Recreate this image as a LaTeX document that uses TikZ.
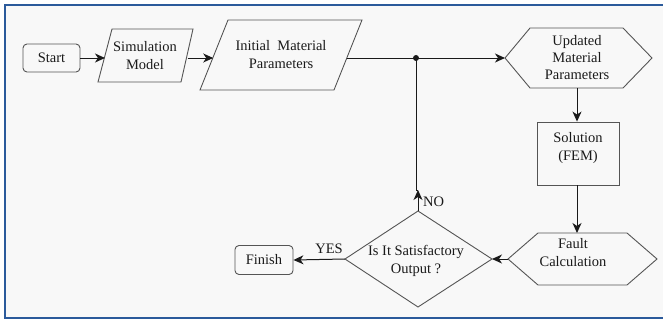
\documentclass[tikz,border=0pt]{standalone}
\usepackage{fontspec}
\setmainfont{Liberation Serif}
\usetikzlibrary{arrows.meta}
\definecolor{frameblue}{HTML}{2B5A9B}
\definecolor{bgfill}{HTML}{F8F8F8}
\definecolor{edgegray}{HTML}{555555}
\definecolor{ink}{HTML}{1A1A1A}
\begin{document}
\begin{tikzpicture}[x=1pt,y=-1pt,
  font=\fontsize{14.5}{18}\selectfont,
  every node/.style={text=ink},
  outline/.style={draw=edgegray, line width=0.9pt},
  termbox/.style={outline, rounded corners=4pt, inner sep=0pt},
  procbox/.style={outline, inner sep=0pt},
  txt/.style={align=center, inner sep=0pt},
  conn/.style={draw=ink, line width=1pt},
  arr/.style={conn, -{Stealth[length=10pt,width=9pt,inset=3pt]}}
]
\useasboundingbox (0,0) rectangle (663,321);
\clip (0,0) rectangle (663,321);
\fill[white] (0,0) rectangle (663,321);
\draw[frameblue, line width=2pt, fill=bgfill] (5,5) rectangle (680,318);

% Start
\node[termbox, minimum width=57pt, minimum height=28pt] (start) at (51.5,58) {Start};

% Simulation Model (parallelogram)
\draw[outline] (112,29) -- (193,29) -- (181,82) -- (98,82) -- cycle;
\node[txt] (sim) at (145,56) {Simulation\\Model};
\coordinate (simL) at (105,58);
\coordinate (simR) at (187.5,58);

% Initial Material Parameters (parallelogram)
\draw[outline] (228,20) -- (362,20) -- (334,90) -- (200,90) -- cycle;
\node[txt] (init) at (281,55) {Initial\ \ Material\\Parameters};
\coordinate (initL) at (213.2,58);
\coordinate (initR) at (346.8,58);

% junction
\coordinate (junc) at (416,58);
\fill[ink] (junc) circle (3pt);

% Updated Material Parameters (hexagon)
\draw[outline] (505,58) -- (530,28) -- (623,28) -- (652,58) -- (623,88) -- (530,88) -- cycle;
\node[txt, font=\fontsize{14.5}{17}\selectfont] (upd) at (577,58) {Updated\\Material\\Parameters};
\coordinate (updL) at (505,58);
\coordinate (updB) at (577,88);

% Solution (FEM)
\node[procbox, minimum width=82pt, minimum height=63pt] (sol) at (578,153.5) {};
\node[txt] (soltxt) at (578,148) {Solution\\(FEM)};

% Fault Calculation (hexagon)
\draw[outline] (508,259) -- (538,233) -- (627,233) -- (657,259) -- (627,285) -- (538,285) -- cycle;
\node[txt] (fault) at (573,253) {Fault\\Calculation};
\coordinate (faultT) at (577,233);
\coordinate (faultL) at (508,259);

% Decision (diamond)
\draw[outline] (418,211) -- (492,259) -- (418,307) -- (345,259) -- cycle;
\node[txt] (dec) at (416,261) {Is It Satisfactory\\Output ?};
\coordinate (decT) at (418,211);
\coordinate (decR) at (492,259);
\coordinate (decL) at (345,259);
\coordinate (noTip) at (418,190);

% Finish
\node[termbox, minimum width=58pt, minimum height=29pt] (finish) at (264,260) {Finish};

% connectors
\draw[arr] (start.east) -- (simL);
\draw[arr] (simR) -- (initL);
\draw[conn] (initR) -- (junc);
\draw[arr] (junc) -- (updL);
\draw[arr] (updB) -- (sol.north -| updB);
\draw[arr] (sol.south -| updB) -- (faultT);
\draw[arr] (faultL) -- (decR);
\draw[arr] (decT) -- (noTip);
\draw[conn] (noTip) -- (junc |- noTip) -- (junc);
\draw[arr] (decL) -- (finish.east);

% labels
\node[txt, anchor=west] (nolbl) at (423,202) {NO};
\node[txt] (yeslbl) at (329,249) {YES};
\end{tikzpicture}
\end{document}
